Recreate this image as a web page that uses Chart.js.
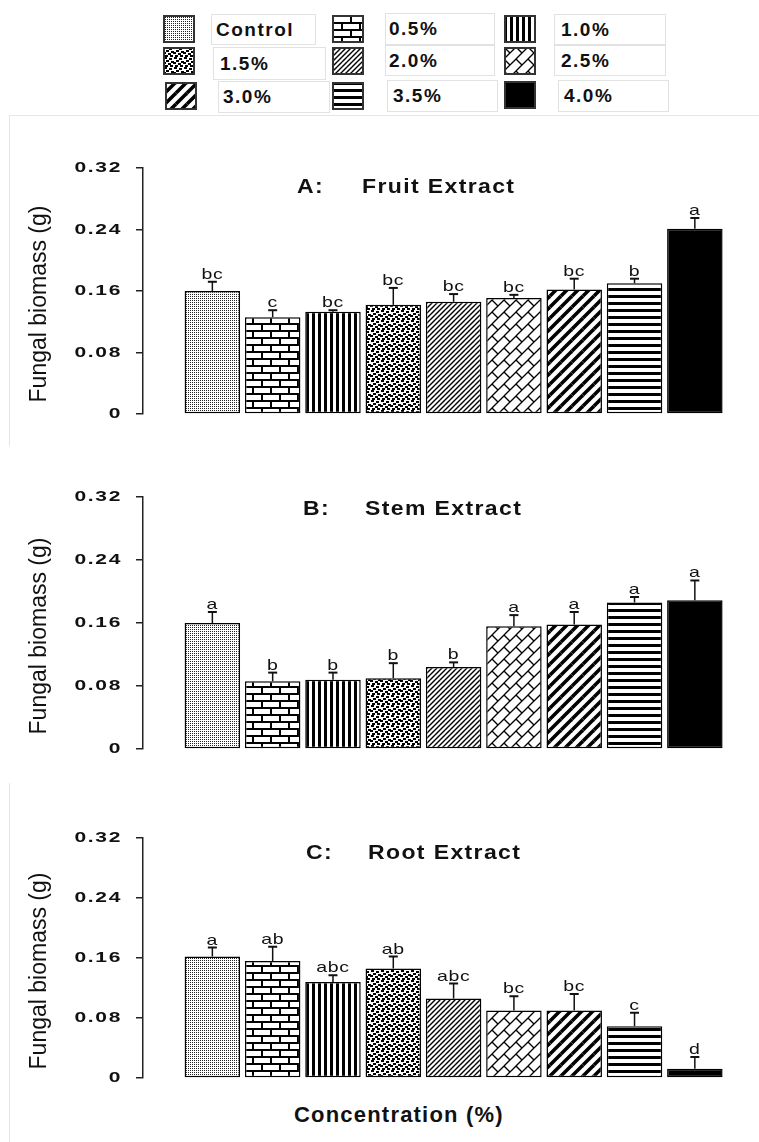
<!DOCTYPE html>
<html>
<head>
<meta charset="utf-8">
<script src="https://cdn.jsdelivr.net/npm/chart.js@4.4.1/dist/chart.umd.min.js"></script>
<style>
  body { margin: 0; background: #fff; width: 759px; height: 1142px; position: relative; overflow: hidden;
         font-family: "Liberation Sans", Arial, sans-serif; }
  canvas { position: absolute; left: 0; }
  .sw { position: absolute; }
  .lb { position: absolute; box-sizing: border-box; border: 1px solid #e2e2e2; font-weight: bold;
        font-size: 19px; letter-spacing: 1.5px; color: #111; white-space: nowrap; }
  .frame { position: absolute; border-color: #e6e6e6; border-style: solid; border-width: 0; }
  #xlab { position: absolute; left: 294px; top: 1102px; font-weight: bold; font-size: 22px;
          letter-spacing: 1.2px; color: #111; line-height: 26px; }
</style>
</head>
<body>
<div class="frame" style="left:9px;top:115px;width:750px;height:330px;border-top-width:1px;border-left-width:1px;"></div>
<div class="frame" style="left:9px;top:783px;width:750px;height:359px;border-left-width:1px;"></div>
<div id="legend"></div>
<canvas id="cA" width="759" height="330" style="top:120px"></canvas>
<canvas id="cB" width="759" height="330" style="top:455px"></canvas>
<canvas id="cC" width="759" height="305" style="top:790px"></canvas>
<div id="xlab">Concentration (%)</div>

<script>
// concentrations (legend + bar order)
const categories = ["Control", "0.5%", "1.0%", "1.5%", "2.0%", "2.5%", "3.0%", "3.5%", "4.0%"];
const yTicks = [0, 0.08, 0.16, 0.24, 0.32];
const yTickLabels = ["0", "0.08", "0.16", "0.24", "0.32"];

// A: fruit extract
const fruitMeans = [0.160, 0.126, 0.133, 0.142, 0.146, 0.151, 0.162, 0.170, 0.241];
const fruitErrs = [0.012, 0.009, 0.002, 0.022, 0.010, 0.004, 0.014, 0.006, 0.014];
const fruitLetters = ["bc", "c", "bc", "bc", "bc", "bc", "bc", "b", "a"];

// B: stem extract
const stemMeans = [0.160, 0.086, 0.088, 0.090, 0.104, 0.156, 0.158, 0.186, 0.189];
const stemErrs = [0.014, 0.011, 0.009, 0.019, 0.006, 0.014, 0.016, 0.007, 0.025];
const stemLetters = ["a", "b", "b", "b", "b", "a", "a", "a", "a"];

// C: root extract
const rootMeans = [0.162, 0.156, 0.128, 0.146, 0.106, 0.090, 0.090, 0.069, 0.0125];
const rootErrs = [0.012, 0.019, 0.009, 0.016, 0.020, 0.019, 0.022, 0.018, 0.0155];
const rootLetters = ["a", "ab", "abc", "ab", "abc", "bc", "bc", "c", "d"];

// --- hatch patterns ---
function tile(w, h, draw) {
  const c = document.createElement("canvas");
  c.width = w; c.height = h;
  const g = c.getContext("2d");
  g.fillStyle = "#fff"; g.fillRect(0, 0, w, h);
  g.fillStyle = "#000"; g.strokeStyle = "#000";
  draw(g, w, h);
  return c;
}
// draw fn at all 9 neighbour offsets so the tile repeats seamlessly
function wrapped(g, w, h, fn) {
  for (const dx of [-w, 0, w]) for (const dy of [-h, 0, h]) {
    g.save(); g.translate(dx, dy); fn(g); g.restore();
  }
}
function line(g, x1, y1, x2, y2) { g.beginPath(); g.moveTo(x1, y1); g.lineTo(x2, y2); g.stroke(); }

const tiles = [
  tile(2, 2, g => { g.fillStyle = "#222"; g.fillRect(0, 0, 1, 1); }),
  tile(18, 14, g => { g.fillRect(0, 0, 18, 2); g.fillRect(0, 7, 18, 2); g.fillRect(0, 0, 2, 7); g.fillRect(9, 7, 2, 7); }),
  tile(6, 1, g => g.fillRect(0, 0, 3, 1)),
  tile(10, 10, (g, w, h) => wrapped(g, w, h, g2 => {
    [[1, 0], [6, 1], [3, 3], [8, 4], [0, 5], [5, 6], [2, 8], [7, 8]].forEach(p => g2.fillRect(p[0], p[1], 3, 2));
  })),
  tile(5, 5, (g, w, h) => wrapped(g, w, h, g2 => { g2.lineWidth = 1.4; line(g2, 0, 5, 5, 0); })),
  tile(12, 12, (g, w, h) => wrapped(g, w, h, g2 => { g2.lineWidth = 1.3; line(g2, 0, 12, 12, 0); line(g2, 0, 0, 6, 6); })),
  tile(11, 11, (g, w, h) => wrapped(g, w, h, g2 => { g2.lineWidth = 3.5; line(g2, 0, 11, 11, 0); })),
  tile(1, 7, g => g.fillRect(0, 0, 1, 3)),
  null
];
function fills(ctx) {
  return tiles.map(t => t ? ctx.createPattern(t, "repeat") : "#000");
}

// --- legend (html) ---
const legendSw = [[163, 15], [332, 15], [504, 15], [163, 47], [332, 47], [504, 47], [165, 82], [332, 82], [504, 81]];
const legendBox = [[211, 14, 105, 31], [385, 13, 110, 32], [554, 14, 112, 31],
                   [213, 47, 113, 33], [385, 45, 110, 31], [554, 45, 112, 31],
                   [218, 81, 112, 32], [387, 80, 111, 32], [558, 80, 111, 32]];
const legendPad = [4, 3, 6, 6, 3, 6, 4, 5, 5];
const legend = document.getElementById("legend");
categories.forEach((c, i) => {
  const cv = document.createElement("canvas");
  cv.className = "sw"; cv.width = 32; cv.height = 28;
  cv.style.left = legendSw[i][0] + "px"; cv.style.top = legendSw[i][1] + "px";
  const g = cv.getContext("2d");
  g.fillStyle = fills(g)[i]; g.fillRect(0, 0, 32, 28);
  g.strokeStyle = "#333"; g.lineWidth = 2; g.strokeRect(1, 1, 30, 26);
  legend.appendChild(cv);
  const b = legendBox[i];
  const d = document.createElement("div");
  d.className = "lb"; d.textContent = c;
  d.style.cssText = `left:${b[0]}px;top:${b[1]}px;width:${b[2]}px;height:${b[3]}px;line-height:${b[3] - 2}px;padding-left:${legendPad[i]}px;`;
  legend.appendChild(d);
});

// --- text helpers ---
function drawText(ctx, txt, x, y, font, sx, ls, align, base) {
  ctx.save();
  ctx.font = font; ctx.fillStyle = "#111";
  ctx.textAlign = align; ctx.textBaseline = base;
  ctx.letterSpacing = ls + "px";
  ctx.translate(x, y); ctx.scale(sx, 1);
  ctx.fillText(txt, 0, 0);
  ctx.restore();
}

const panels = [
  { id: "cA", tag: "A:", name: "Fruit Extract", means: fruitMeans, errs: fruitErrs, letters: fruitLetters,
    padTop: 48, padBottom: 36, tagDx: 154, nameDx: 219, titleDy: 25 },
  { id: "cB", tag: "B:", name: "Stem Extract", means: stemMeans, errs: stemErrs, letters: stemLetters,
    padTop: 42, padBottom: 36, tagDx: 160, nameDx: 222, titleDy: 18 },
  { id: "cC", tag: "C:", name: "Root Extract", means: rootMeans, errs: rootErrs, letters: rootLetters,
    padTop: 48, padBottom: 17, tagDx: 163, nameDx: 225, titleDy: 21 }
];

panels.forEach(p => {
  const el = document.getElementById(p.id);
  const decor = {
    id: "decor",
    afterDatasetsDraw(chart) {
      const ctx = chart.ctx, ys = chart.scales.y, area = chart.chartArea;
      const meta = chart.getDatasetMeta(0);
      // error bars + letters
      meta.data.forEach((bar, i) => {
        const yTop = ys.getPixelForValue(p.means[i] + p.errs[i]);
        ctx.save();
        ctx.strokeStyle = "#111";
        ctx.lineWidth = 1.5;
        line(ctx, bar.x, bar.y, bar.x, yTop);
        ctx.lineWidth = 2;
        line(ctx, bar.x - 4.5, yTop, bar.x + 4.5, yTop);
        ctx.restore();
        drawText(ctx, p.letters[i], bar.x, yTop - 3, '15px "Liberation Sans"', 1.3, 0.5, "center", "alphabetic");
      });
      // y tick labels
      yTicks.forEach((v, i) => {
        drawText(ctx, yTickLabels[i], 122, ys.getPixelForValue(v), 'bold 15px "Liberation Sans"', 1.4, 1.2, "right", "middle");
      });
      // y title
      ctx.save();
      ctx.translate(40, (area.top + area.bottom) / 2 + 13);
      ctx.rotate(-Math.PI / 2);
      ctx.font = '23px "Liberation Sans"'; ctx.fillStyle = "#111";
      ctx.textAlign = "center"; ctx.textBaseline = "middle";
      ctx.fillText("Fungal biomass (g)", 0, 0);
      ctx.restore();
      // panel title
      drawText(ctx, p.tag, area.left + p.tagDx, area.top + p.titleDy, 'bold 20px "Liberation Sans"', 1.15, 1.2, "left", "alphabetic");
      drawText(ctx, p.name, area.left + p.nameDx, area.top + p.titleDy, 'bold 20px "Liberation Sans"', 1.15, 1.2, "left", "alphabetic");
    }
  };

  new Chart(el, {
    type: "bar",
    data: {
      datasets: [{
        data: p.means.map((v, i) => ({ x: i, y: v })),
        backgroundColor: fills(el.getContext("2d")),
        borderColor: "#000",
        borderWidth: 1.5,
        borderSkipped: false,
        barPercentage: 0.92,
        categoryPercentage: 1
      }]
    },
    options: {
      responsive: false,
      animation: false,
      layout: { padding: { top: p.padTop, bottom: p.padBottom, left: 0, right: 34 } },
      plugins: { legend: { display: false }, tooltip: { enabled: false } },
      scales: {
        x: { type: "linear", min: -1.15, max: 8.5, offset: false, grid: { offset: false }, display: false },
        y: {
          min: 0, max: 0.32,
          afterFit: s => { s.width = 143; },
          afterBuildTicks: s => { s.ticks = yTicks.map(v => ({ value: v })); },
          ticks: { display: false },
          grid: { drawOnChartArea: false, drawTicks: true, tickLength: 7, color: "#222", lineWidth: 1.5 },
          border: { display: true, color: "#222", width: 1.5 }
        }
      }
    },
    plugins: [decor]
  });
});
</script>
</body>
</html>
